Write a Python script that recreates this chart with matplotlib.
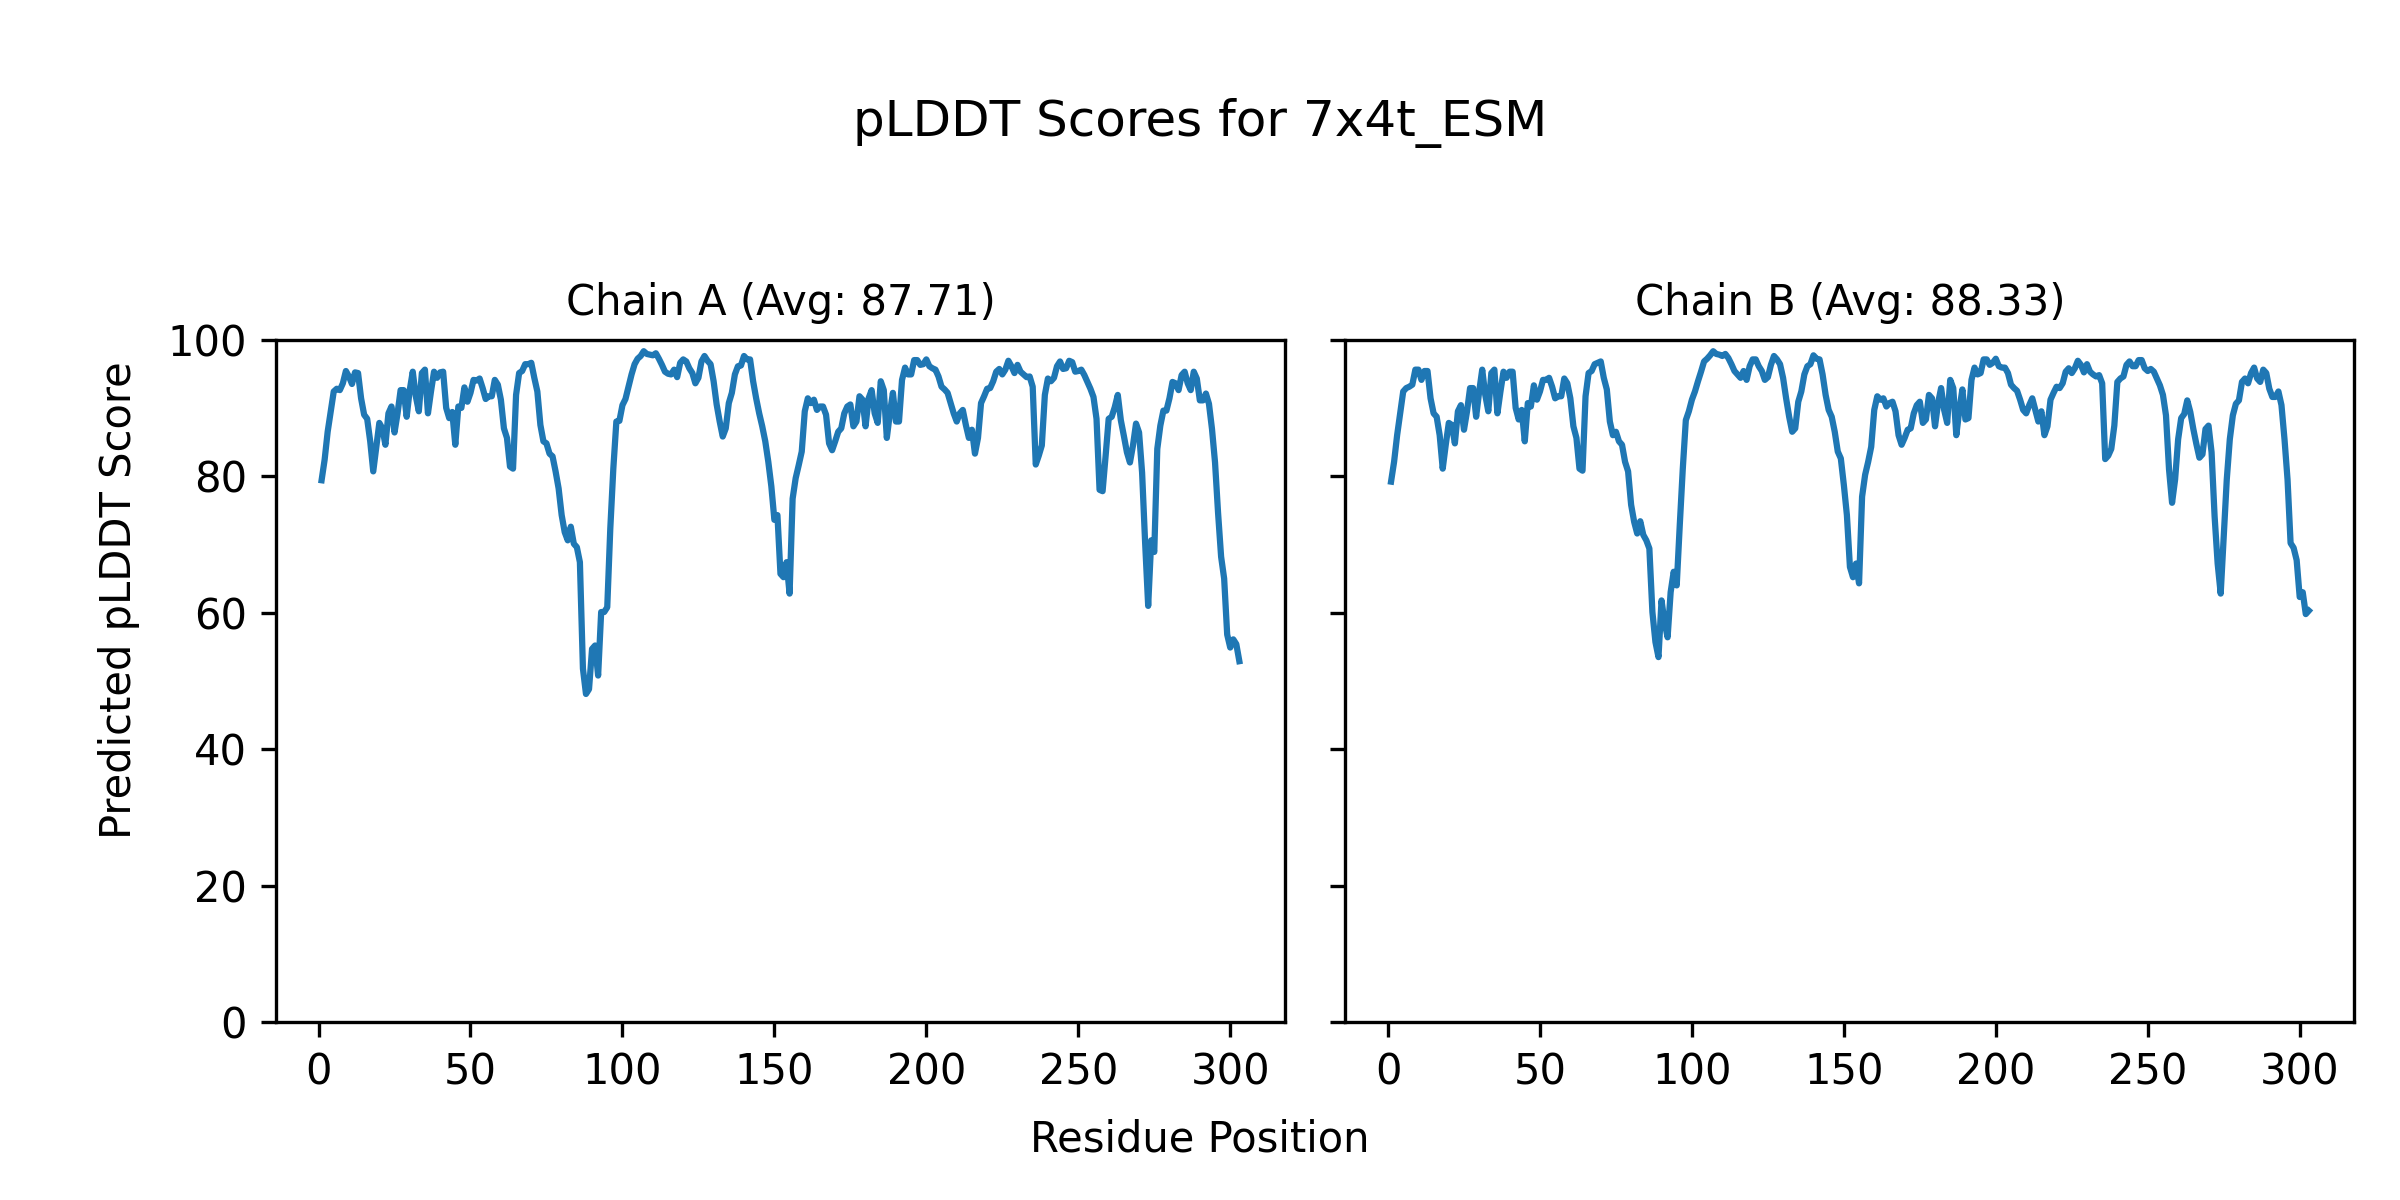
import numpy as np
import matplotlib
matplotlib.use("Agg")
import matplotlib.pyplot as plt

# pLDDT per residue
chain_a_scores = [
    79.4, 82.4, 86.5, 89.5, 92.4, 92.8, 92.6, 93.6, 95.4, 94.6,
    93.5, 95.2, 95.1, 91.4, 89.0, 88.4, 85.1, 80.7, 84.3, 87.8,
    87.0, 84.6, 89.2, 90.2, 86.4, 89.2, 92.6, 92.6, 88.7, 92.6,
    95.3, 91.7, 89.5, 95.1, 95.6, 89.2, 92.4, 95.3, 94.4, 95.2,
    95.3, 90.0, 88.5, 89.4, 84.6, 90.2, 90.0, 93.0, 90.9, 92.2,
    94.1, 94.0, 94.3, 92.9, 91.3, 91.7, 91.7, 94.1, 93.4, 91.2,
    87.0, 85.6, 81.4, 81.1, 91.9, 95.1, 95.4, 96.4, 96.4, 96.6,
    94.4, 92.4, 87.5, 85.1, 84.8, 83.3, 82.9, 80.7, 78.2, 74.3,
    71.8, 70.6, 72.6, 70.1, 69.6, 67.4, 51.8, 48.1, 48.8, 54.7,
    55.2, 50.8, 60.1, 60.1, 60.8, 72.3, 81.1, 88.0, 88.1, 90.4,
    91.3, 93.1, 94.9, 96.4, 97.2, 97.6, 98.3, 97.9, 97.8, 97.7,
    98.0, 97.2, 96.3, 95.3, 95.0, 94.9, 95.6, 94.5, 96.6, 97.1,
    96.8, 95.8, 95.1, 93.6, 94.4, 96.8, 97.6, 96.9, 96.4, 93.9,
    90.5, 88.0, 85.8, 87.0, 90.7, 92.2, 94.9, 96.1, 96.2, 97.6,
    97.1, 97.1, 93.9, 91.4, 89.2, 87.3, 85.1, 82.1, 78.5, 73.6,
    74.3, 65.7, 65.2, 67.4, 62.8, 76.7, 79.7, 81.6, 83.6, 89.5,
    91.4, 90.7, 91.2, 89.7, 90.2, 90.2, 89.0, 84.8, 83.8, 85.1,
    86.5, 87.0, 89.2, 90.2, 90.5, 87.3, 88.0, 91.7, 91.2, 87.3,
    91.4, 92.6, 89.2, 87.8, 93.9, 92.6, 85.6, 89.2, 92.2, 88.0,
    88.0, 94.1, 95.9, 94.9, 94.9, 97.0, 97.0, 96.3, 96.4, 97.1,
    96.1, 95.8, 95.6, 94.6, 93.1, 92.7, 92.2, 90.7, 89.2, 88.0,
    89.2, 89.7, 87.5, 85.6, 86.8, 83.3, 85.6, 90.7, 91.7, 92.8,
    92.9, 93.9, 95.3, 95.7, 94.9, 95.6, 96.9, 96.1, 95.1, 96.3,
    95.3, 94.9, 94.5, 94.6, 93.1, 81.7, 83.0, 84.5, 91.9, 94.3,
    93.9, 94.4, 96.1, 96.8, 95.7, 95.8, 96.9, 96.7, 95.3, 95.4,
    95.6, 94.8, 93.8, 92.8, 91.6, 88.4, 78.0, 77.8, 83.0, 88.4,
    88.7, 90.1, 91.9, 88.2, 85.9, 83.5, 82.0, 84.5, 87.7, 86.4,
    80.5, 70.2, 61.0, 70.6, 68.9, 84.0, 87.4, 89.6, 89.6, 91.4,
    93.8, 93.6, 92.6, 94.8, 95.3, 93.6, 92.6, 95.3, 94.3, 91.1,
    91.1, 92.1, 90.6, 86.9, 82.0, 74.6, 68.2, 65.0, 56.8, 54.9,
    56.1, 55.4, 52.9,
]

chain_b_scores = [
    79.2, 82.1, 86.0, 89.2, 92.4, 92.9, 93.1, 93.4, 95.6, 95.6,
    94.1, 95.4, 95.4, 91.4, 89.2, 88.7, 86.0, 81.1, 84.6, 87.8,
    87.5, 84.8, 89.5, 90.4, 86.8, 89.5, 92.9, 92.9, 88.7, 92.4,
    95.6, 91.9, 89.5, 95.1, 95.6, 89.2, 92.4, 95.3, 94.4, 95.3,
    95.3, 90.0, 88.3, 89.7, 85.1, 90.7, 90.2, 93.3, 91.2, 92.4,
    94.1, 94.1, 94.4, 93.1, 91.4, 91.7, 91.7, 94.3, 93.6, 91.4,
    87.3, 85.6, 81.1, 80.8, 91.7, 95.1, 95.4, 96.4, 96.6, 96.8,
    94.4, 92.7, 88.0, 86.0, 86.5, 85.1, 84.6, 82.1, 80.7, 75.8,
    73.3, 71.6, 73.4, 71.4, 70.6, 69.4, 60.1, 55.7, 53.5, 61.8,
    58.6, 56.4, 63.0, 66.0, 64.0, 72.8, 81.1, 88.2, 89.5, 91.2,
    92.4, 93.9, 95.3, 96.8, 97.2, 97.7, 98.3, 97.9, 97.8, 97.6,
    97.9, 97.3, 96.4, 95.4, 94.9, 94.4, 95.4, 94.1, 96.1, 97.1,
    97.1, 96.1, 95.4, 94.1, 94.5, 96.3, 97.6, 97.1, 96.4, 94.4,
    91.4, 88.7, 86.5, 87.0, 90.9, 92.4, 94.9, 96.1, 96.4, 97.7,
    97.2, 97.1, 94.9, 91.9, 89.7, 88.7, 86.5, 83.6, 82.6, 78.7,
    74.3, 66.7, 65.2, 67.2, 64.3, 77.0, 80.2, 82.1, 84.3, 89.7,
    91.7, 91.2, 91.4, 90.2, 90.7, 90.9, 89.5, 86.0, 84.6, 85.6,
    86.8, 87.0, 89.2, 90.4, 90.9, 87.8, 88.3, 91.9, 91.4, 87.3,
    90.7, 92.9, 89.7, 87.8, 94.1, 92.9, 86.0, 89.7, 92.7, 88.3,
    88.5, 94.1, 95.9, 94.9, 95.1, 97.1, 97.1, 96.3, 96.6, 97.2,
    96.1, 95.9, 95.9, 95.1, 93.4, 92.9, 92.5, 91.2, 89.7, 89.2,
    90.4, 91.4, 89.7, 88.0, 89.5, 86.0, 87.3, 91.2, 92.2, 93.1,
    92.9, 93.6, 95.3, 95.8, 95.1, 95.8, 96.9, 96.3, 95.2, 96.4,
    95.3, 94.9, 94.6, 94.8, 93.6, 82.5, 83.0, 84.0, 87.4, 93.8,
    94.3, 94.6, 96.3, 96.8, 96.1, 96.1, 97.0, 97.0, 95.8, 95.4,
    95.7, 95.3, 94.3, 93.3, 91.9, 88.9, 81.0, 76.1, 79.5, 85.4,
    88.5, 89.1, 91.1, 89.4, 86.9, 84.7, 82.7, 83.2, 86.9, 87.4,
    83.5, 74.1, 67.2, 62.8, 71.1, 79.5, 85.4, 88.9, 90.6, 91.1,
    93.8, 94.3, 93.6, 95.1, 95.9, 94.3, 93.8, 95.6, 95.1, 92.8,
    91.6, 91.6, 92.4, 90.4, 85.4, 79.5, 70.2, 69.5, 67.7, 62.3,
    63.0, 59.8, 60.3,
]

chain_ids = ["A", "B"]
chain_avgs = [87.71, 88.33]
chain_scores = [chain_a_scores, chain_b_scores]

fig, axes = plt.subplots(1, 2, figsize=(8, 4), dpi=300, sharey=True)
fig.subplots_adjust(left=0.115, right=0.981, bottom=0.148, top=0.717, wspace=0.06)

for ax, chain_id, avg, scores in zip(axes, chain_ids, chain_avgs, chain_scores):
    positions = np.arange(1, len(scores) + 1)
    ax.plot(positions, scores, color="#1f77b4", linewidth=1.5)
    ax.set_title(f"Chain {chain_id} (Avg: {avg:.2f})", fontsize=10)
    ax.set_ylim(0, 100)
    ax.set_xlim(-14, 318)

fig.suptitle("pLDDT Scores for 7x4t_ESM", fontsize=12, y=0.918)
fig.supxlabel("Residue Position", fontsize=10, y=0.033)
fig.supylabel("Predicted pLDDT Score", fontsize=10, x=0.041)

fig.savefig("out.png", dpi=300)
